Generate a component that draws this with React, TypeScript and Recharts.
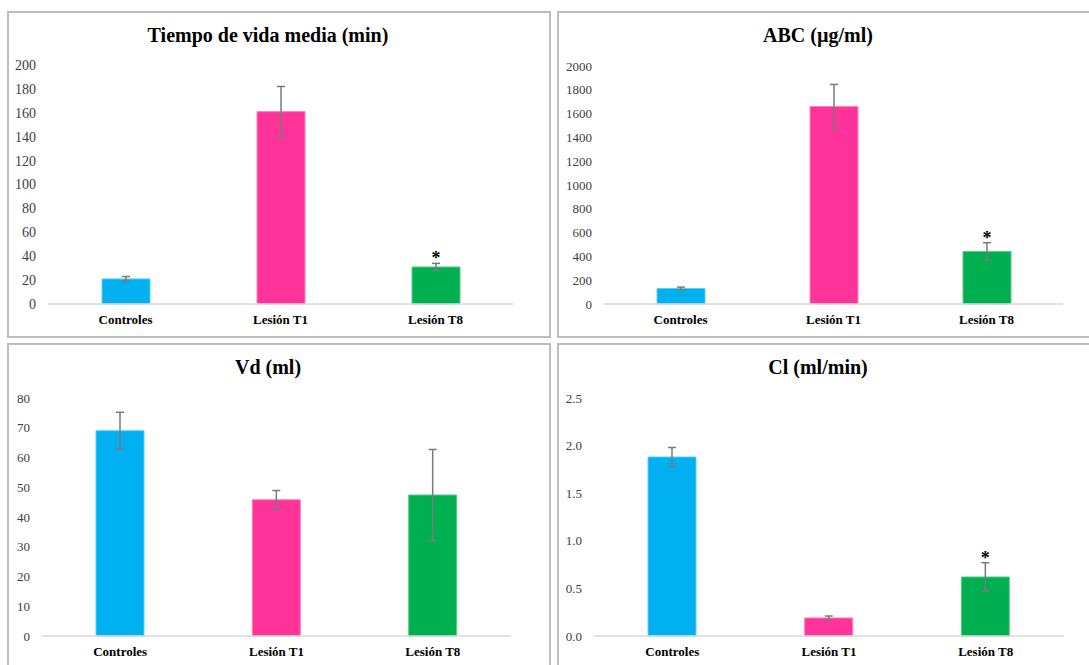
import { BarChart, Bar, XAxis, YAxis, ErrorBar, Cell, LabelList } from "recharts"

const categories = ["Controles", "Lesión T1", "Lesión T8"]
const barColors = ["#00B0F0", "#FF3399", "#00B050"]
const barEdges = ["#5ccdf5", "#ff80bf", "#5cc98e"]

// Tiempo de vida media (min)
const vidaMedia = [21, 161, 31]
const vidaMediaErr = [2, 21, 3]
const vidaMediaSig = [false, false, true]
const vidaMediaTicks = [0, 20, 40, 60, 80, 100, 120, 140, 160, 180, 200]

// ABC (µg/ml)
const abc = [130, 1660, 442]
const abcErr = [12, 185, 73]
const abcSig = [false, false, true]
const abcTicks = [0, 200, 400, 600, 800, 1000, 1200, 1400, 1600, 1800, 2000]

// Vd (ml)
const vd = [69, 45.8, 47.4]
const vdErr = [6.2, 3.1, 15.3]
const vdSig = [false, false, false]
const vdTicks = [0, 10, 20, 30, 40, 50, 60, 70, 80]

// Cl (ml/min)
const cl = [1.88, 0.19, 0.62]
const clErr = [0.1, 0.02, 0.15]
const clSig = [false, false, true]
const clTicks = [0, 0.5, 1, 1.5, 2, 2.5]

const serif = '"Liberation Serif", "Times New Roman", serif'

type PanelProps = {
    left: number
    top: number
    width: number
    title: string
    values: number[]
    errors: number[]
    sig: boolean[]
    ticks: number[]
    fmt?: (v: number) => string
    tickFont: number
    m: { top: number; left: number; right: number }
}

function Panel({ left, top, width, title, values, errors, sig, ticks, fmt, tickFont, m }: PanelProps) {
    const data = categories.map((name, i) => ({ name, v: values[i], err: errors[i] }))
    const height = 327

    // asterisk sits just above the error bar cap
    const star = (props: any) => {
        const i = props.index
        if (!sig[i]) return null
        const vb = props.viewBox ?? props
        const h = Math.abs(vb.height)
        const errTop = vb.y - errors[i] * (h / values[i])
        return (
            <text x={vb.x + vb.width / 2} y={errTop + 1} textAnchor="middle"
                fontFamily={serif} fontSize={18} fontWeight="bold" fill="#000">*</text>
        )
    }

    return (
        <>
            <div style={{
                position: "absolute", left, top, width, height,
                border: "2px solid #bdbdbd", boxSizing: "border-box", background: "#fff"
            }} />
            <div style={{ position: "absolute", left, top }}>
                <BarChart width={width} height={height} data={data}
                    margin={{ top: m.top, left: 0, right: m.right, bottom: 0 }}>
                    <XAxis dataKey="name" height={34} tickLine={false} tickSize={0} tickMargin={11}
                        axisLine={{ stroke: "#d9d9d9", strokeWidth: 1.5 }}
                        tick={{ fontFamily: serif, fontSize: 13, fontWeight: "bold", fill: "#000" }} />
                    <YAxis width={m.left} domain={[ticks[0], ticks[ticks.length - 1]]} ticks={ticks}
                        interval={0} axisLine={false} tickLine={false} tickSize={0} tickMargin={12}
                        tickFormatter={fmt}
                        tick={{ fontFamily: serif, fontSize: tickFont, fill: "#404040" }} />
                    <Bar dataKey="v" barSize={48} isAnimationActive={false}>
                        {data.map((d, i) => (
                            <Cell key={d.name} fill={barColors[i]} stroke={barEdges[i]} strokeWidth={1} />
                        ))}
                        <ErrorBar dataKey="err" direction="y" width={4} stroke="#7a7a7a" strokeWidth={1.5} />
                        <LabelList dataKey="v" content={star} />
                    </Bar>
                </BarChart>
            </div>
            <svg style={{ position: "absolute", left, top, overflow: "visible", pointerEvents: "none" }}
                width={width} height={50}>
                <text x={261} y={31} textAnchor="middle" fontFamily={serif} fontSize={20}
                    fontWeight="bold" fill="#000">{title}</text>
            </svg>
        </>
    )
}

export default function App() {
    return (
        <div style={{
            position: "absolute", left: 0, top: 0, width: 1089, height: 665,
            overflow: "hidden", background: "#fff"
        }}>
            <Panel left={7} top={11} width={544} title="Tiempo de vida media (min)"
                values={vidaMedia} errors={vidaMediaErr} sig={vidaMediaSig} ticks={vidaMediaTicks}
                tickFont={14} m={{ top: 54, left: 41, right: 38 }} />
            <Panel left={557} top={11} width={540} title="ABC (µg/ml)"
                values={abc} errors={abcErr} sig={abcSig} ticks={abcTicks}
                tickFont={13} m={{ top: 55, left: 47, right: 34 }} />
            <Panel left={7} top={343} width={544} title="Vd (ml)"
                values={vd} errors={vdErr} sig={vdSig} ticks={vdTicks}
                tickFont={13} m={{ top: 55, left: 35, right: 40 }} />
            <Panel left={557} top={343} width={540} title="Cl (ml/min)"
                values={cl} errors={clErr} sig={clSig} ticks={clTicks}
                fmt={(v: number) => v.toFixed(1)}
                tickFont={13} m={{ top: 55, left: 37, right: 33 }} />
        </div>
    )
}
